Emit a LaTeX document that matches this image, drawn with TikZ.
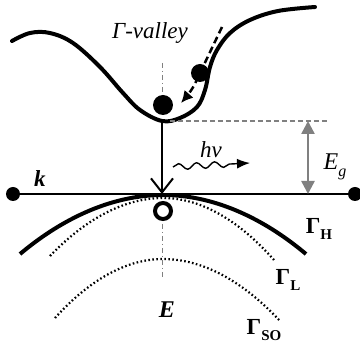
\documentclass[tikz,border=0pt]{standalone}
\usepackage{fontspec}
\setmainfont{Liberation Serif}
\usetikzlibrary{arrows.meta,decorations.pathmorphing}
\begin{document}
\begin{tikzpicture}[x=1pt,y=-1pt,
  band/.style={line width=4pt},
  blackdot/.style={circle,fill=black,inner sep=0pt},
  guide/.style={gray,line width=1pt,dash pattern=on 5pt off 3pt on 1pt off 3pt},
  dotband/.style={line width=2.2pt,dash pattern=on 1.6pt off 2.4pt},
  lbl/.style={inner sep=0pt,font=\fontsize{23}{26}\selectfont},
  sub/.style={font=\fontsize{15}{16}\selectfont\bfseries}]
\useasboundingbox (0,0) rectangle (360,347);
% conduction band
\draw[band,line cap=round] plot[smooth,tension=0.6] coordinates {(12,41) (30,33) (50,33) (73,43) (100,67) (123,93) (140,110) (162,121) (180,118) (197,107) (205,90) (210,67) (217,50) (230,33) (250,20) (278,11) (315,7)};
% guides
\coordinate (gtop) at (163,63);
\coordinate (gbot) at (163,96);
\draw[guide] (gtop) -- (gbot);
\coordinate (g2top) at (163,224);
\coordinate (g2bot) at (163,278);
\draw[guide] (g2top) -- (g2bot);
% dots
\node[blackdot,minimum size=20pt] (e1) at (163,105) {};
\node[blackdot,minimum size=18pt] (e2) at (200,73) {};
% dashed relaxation arrow
\draw[line width=2.5pt,dash pattern=on 7pt off 4pt,-{Latex[length=12pt,width=12pt]}] plot[smooth,tension=0.6] coordinates {(222,27) (211,50) (200,73) (192,89) (181,103)};
% label
\node[lbl,font=\fontsize{23}{26}\selectfont\itshape] (gv) at (150,33) {Γ-valley};
% transition arrow
\coordinate (cbmin) at (162,121);
\coordinate (vbmax) at (162,194);
\draw[line width=2pt,-{Straight Barb[length=14pt,width=22pt,line width=2pt]}] (cbmin) -- (vbmax);
% k line
\node[blackdot,minimum size=14pt] (kl) at (13,194) {};
\node[blackdot,minimum size=14pt] (kr) at (355,194) {};
\draw[line width=2pt] (kl) -- (kr);
\node[lbl,font=\fontsize{23}{26}\selectfont\bfseries\itshape] (k) at (40,179) {k};
% Eg
\coordinate (egl) at (170,121);
\coordinate (egr) at (327,121);
\draw[gray,line width=1.5pt,dash pattern=on 5pt off 3pt] (egl) -- (egr);
\coordinate (ega) at (308,121);
\coordinate (egb) at (308,194);
\draw[gray,line width=2.5pt,{Triangle[length=13pt,width=13pt]}-{Triangle[length=13pt,width=13pt]}] (ega) -- (egb);
\node[lbl,font=\fontsize{24}{26}\selectfont\itshape] (eg) at (335,167) {E\raisebox{-0.3em}{\fontsize{16}{16}\selectfont g}};
% photon
\coordinate (ph1) at (173,167);
\coordinate (ph2) at (250,163);
\draw[line width=1.4pt,decorate,decoration={snake,amplitude=3pt,segment length=18pt,post length=12pt},-{Latex[length=13pt,width=10pt]}] (ph1) -- (ph2);
\node[lbl,font=\fontsize{23}{26}\selectfont\itshape] (hv) at (211,150) {hν};
% valence bands
\draw[band] (20,254) parabola bend (163,195) (306,254);
\draw[dotband] (50,256) parabola bend (163,198) (274,260);
\draw[dotband] (55,318) parabola bend (163,259) (280,321);
% hole
\node[circle,draw,line width=4pt,fill=white,minimum size=16pt,inner sep=0pt] (hole) at (163,211) {};
% labels
\node[lbl,font=\fontsize{23}{26}\selectfont\bfseries] (gh) at (319,229) {Γ\raisebox{-0.25em}{\fontsize{15}{15}\selectfont\bfseries H}};
\node[lbl,font=\fontsize{23}{26}\selectfont\bfseries] (gl) at (288,280) {Γ\raisebox{-0.25em}{\fontsize{15}{15}\selectfont\bfseries L}};
\node[lbl,font=\fontsize{23}{26}\selectfont\bfseries] (gso) at (264,330) {Γ\raisebox{-0.25em}{\fontsize{15}{15}\selectfont\bfseries SO}};
\node[lbl,font=\fontsize{24}{26}\selectfont\bfseries\itshape] (E) at (167,310) {E};
\end{tikzpicture}
\end{document}
